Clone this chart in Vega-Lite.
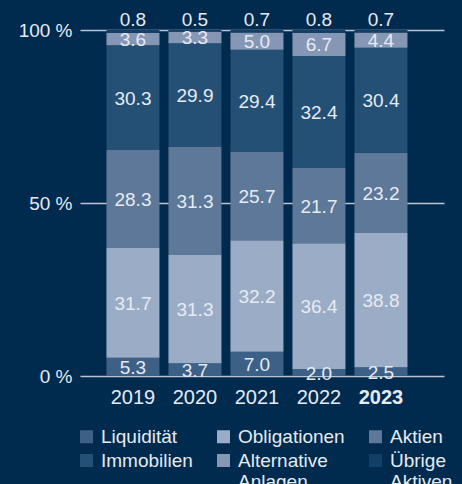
{
  "$schema": "https://vega.github.io/schema/vega-lite/v6.json",
  "width": 364,
  "height": 346,
  "autosize": {"type": "none"},
  "padding": {"left": 80, "top": 30, "right": 18, "bottom": 108},
  "background": "#002a4e",
  "config": {
    "view": {"stroke": null},
    "font": "Liberation Sans",
    "axis": {"labelFont": "Liberation Sans", "labelFontSize": 19, "labelColor": "#e6ebf2"}
  },
  "data": {
    "values": [
      {"year": "2019", "cat": "Liquidität", "ord": 1, "value": 5.3},
      {"year": "2019", "cat": "Obligationen", "ord": 2, "value": 31.7},
      {"year": "2019", "cat": "Aktien", "ord": 3, "value": 28.3},
      {"year": "2019", "cat": "Immobilien", "ord": 4, "value": 30.3},
      {"year": "2019", "cat": "Alternative Anlagen", "ord": 5, "value": 3.6},
      {"year": "2019", "cat": "Übrige Aktiven", "ord": 6, "value": 0.8},
      {"year": "2020", "cat": "Liquidität", "ord": 1, "value": 3.7},
      {"year": "2020", "cat": "Obligationen", "ord": 2, "value": 31.3},
      {"year": "2020", "cat": "Aktien", "ord": 3, "value": 31.3},
      {"year": "2020", "cat": "Immobilien", "ord": 4, "value": 29.9},
      {"year": "2020", "cat": "Alternative Anlagen", "ord": 5, "value": 3.3},
      {"year": "2020", "cat": "Übrige Aktiven", "ord": 6, "value": 0.5},
      {"year": "2021", "cat": "Liquidität", "ord": 1, "value": 7.0},
      {"year": "2021", "cat": "Obligationen", "ord": 2, "value": 32.2},
      {"year": "2021", "cat": "Aktien", "ord": 3, "value": 25.7},
      {"year": "2021", "cat": "Immobilien", "ord": 4, "value": 29.4},
      {"year": "2021", "cat": "Alternative Anlagen", "ord": 5, "value": 5.0},
      {"year": "2021", "cat": "Übrige Aktiven", "ord": 6, "value": 0.7},
      {"year": "2022", "cat": "Liquidität", "ord": 1, "value": 2.0},
      {"year": "2022", "cat": "Obligationen", "ord": 2, "value": 36.4},
      {"year": "2022", "cat": "Aktien", "ord": 3, "value": 21.7},
      {"year": "2022", "cat": "Immobilien", "ord": 4, "value": 32.4},
      {"year": "2022", "cat": "Alternative Anlagen", "ord": 5, "value": 6.7},
      {"year": "2022", "cat": "Übrige Aktiven", "ord": 6, "value": 0.8},
      {"year": "2023", "cat": "Liquidität", "ord": 1, "value": 2.5},
      {"year": "2023", "cat": "Obligationen", "ord": 2, "value": 38.8},
      {"year": "2023", "cat": "Aktien", "ord": 3, "value": 23.2},
      {"year": "2023", "cat": "Immobilien", "ord": 4, "value": 30.4},
      {"year": "2023", "cat": "Alternative Anlagen", "ord": 5, "value": 4.4},
      {"year": "2023", "cat": "Übrige Aktiven", "ord": 6, "value": 0.7}
    ]
  },
  "transform": [
    {"stack": "value", "groupby": ["year"], "sort": [{"field": "ord", "order": "ascending"}], "as": ["v0", "v1"]},
    {"calculate": "(datum.v0 + datum.v1) / 2", "as": "mid"}
  ],
  "encoding": {
    "x": {
      "field": "year",
      "type": "nominal",
      "scale": {"paddingInner": 0.145, "paddingOuter": 0.508, "align": 0.42},
      "axis": {
        "title": null,
        "domain": false,
        "ticks": false,
        "labelAngle": 0,
        "labelPadding": 11,
        "labelFontSize": 20,
        "labelFontWeight": {"condition": {"test": "datum.value == '2023'", "value": "bold"}, "value": "normal"}
      }
    }
  },
  "layer": [
    {
      "mark": {"type": "bar"},
      "encoding": {
        "y": {
          "field": "v0",
          "type": "quantitative",
          "scale": {"domain": [0, 100], "nice": false},
          "axis": {
            "title": null,
            "values": [0, 50, 100],
            "labelExpr": "datum.value + ' %'",
            "grid": true,
            "gridColor": "#bcc4cf",
            "gridWidth": 1.3,
            "domain": false,
            "ticks": false,
            "labelPadding": 8
          }
        },
        "y2": {"field": "v1"},
        "color": {
          "field": "cat",
          "type": "nominal",
          "scale": {
            "domain": ["Liquidität", "Obligationen", "Aktien", "Immobilien", "Alternative Anlagen", "Übrige Aktiven"],
            "range": ["#3d6087", "#9badc6", "#5d7898", "#245076", "#8597b4", "#123f66"]
          },
          "legend": {
            "title": null,
            "orient": "none",
            "legendX": -3,
            "legendY": 397,
            "direction": "horizontal",
            "columns": 3,
            "gridAlign": "each",
            "columnPadding": 21,
            "rowPadding": 4,
            "padding": 0,
            "symbolType": "square",
            "symbolSize": 169,
            "symbolStrokeWidth": 0,
            "symbolOpacity": 1,
            "labelFont": "Liberation Sans",
            "labelFontSize": 19,
            "labelColor": "#e6ebf2",
            "labelOffset": 5,
            "labelLimit": 200,
            "labelExpr": "datum.label == 'Alternative Anlagen' ? ['Alternative', 'Anlagen'] : datum.label == 'Übrige Aktiven' ? ['Übrige', 'Aktiven'] : datum.label"
          }
        }
      }
    },
    {
      "transform": [{"filter": "datum.cat != 'Übrige Aktiven'"}],
      "mark": {"type": "text", "baseline": "middle", "dy": 1, "fontSize": 19, "color": "#e6ebf2", "font": "Liberation Sans"},
      "encoding": {
        "y": {"field": "mid", "type": "quantitative"},
        "text": {"field": "value", "type": "quantitative", "format": ".1f"}
      }
    },
    {
      "transform": [{"filter": "datum.cat == 'Übrige Aktiven'"}],
      "mark": {"type": "text", "baseline": "alphabetic", "dy": -4, "fontSize": 19, "color": "#e6ebf2", "font": "Liberation Sans"},
      "encoding": {
        "y": {"field": "v1", "type": "quantitative"},
        "text": {"field": "value", "type": "quantitative", "format": ".1f"}
      }
    }
  ]
}
